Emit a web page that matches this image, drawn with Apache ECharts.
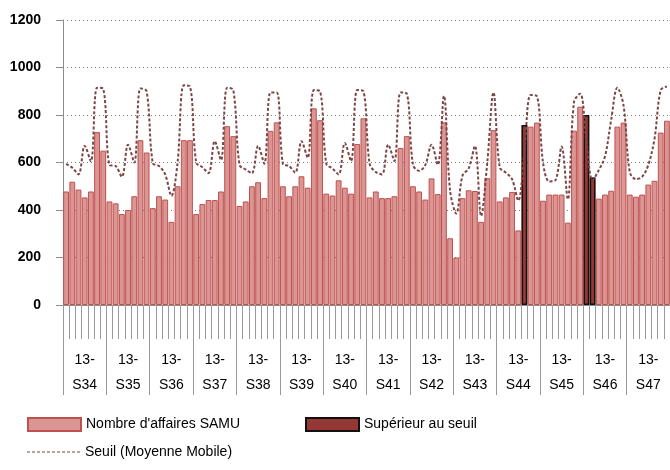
<!DOCTYPE html>
<html><head><meta charset="utf-8">
<script src="https://cdn.jsdelivr.net/npm/echarts@6/dist/echarts.min.js"></script>
<style>html,body{margin:0;padding:0;background:#fff}#c{width:670px;height:470px}</style>
</head><body><div id="c"></div>
<script>
// ---- Data ----
const weeks = ['S34','S35','S36','S37','S38','S39','S40','S41','S42','S43','S44','S45','S46','S47'];
const weekLabels = weeks.map(w => '13-\n' + w);
const dayNames = ['L','Ma','Me','J','V','S','D'];
const days = [];
weeks.forEach(w => dayNames.forEach(d => days.push(w + ' ' + d)));

const nombreAffaires = [
  478, 519, 486, 453, 478, 728, 650,
  436, 428, 383, 400, 458, 694, 642,
  408, 458, 444, 350, 500, 694, 694,
  383, 425, 442, 442, 478, 753, 711,
  417, 436, 500, 517, 450, 733, 769,
  500, 458, 500, 542, 494, 828, 778,
  469, 461, 525, 494, 469, 678, 786,
  453, 478, 450, 450, 458, 661, 711,
  500, 478, 444, 533, 467, 769, 281,
  200, 450, 483, 480, 350, 534, 736,
  436, 453, 476, 314, 758, 751, 768,
  439, 465, 465, 465, 347, 734, 835,
  800, 537, 448, 465, 481, 751, 768,
  465, 456, 465, 507, 523, 726, 776
];
const superieurSeuil = [
  null,null,null,null,null,null,null,
  null,null,null,null,null,null,null,
  null,null,null,null,null,null,null,
  null,null,null,null,null,null,null,
  null,null,null,null,null,null,null,
  null,null,null,null,null,null,null,
  null,null,null,null,null,null,null,
  null,null,null,null,null,null,null,
  null,null,null,null,null,null,null,
  null,null,null,null,null,null,null,
  null,null,null,null,758,null,null,
  null,null,null,null,null,null,null,
  800,537,null,null,null,null,null,
  null,null,null,null,null,null,null
];
const seuil = [
  594, 578, 550, 670, 605, 915, 910,
  590, 585, 540, 675, 600, 912, 900,
  597, 585, 550, 460, 600, 925, 920,
  600, 580, 555, 690, 610, 915, 905,
  590, 570, 555, 670, 595, 895, 895,
  595, 585, 557, 690, 620, 905, 900,
  595, 575, 550, 682, 606, 905, 900,
  595, 560, 550, 675, 606, 895, 890,
  592, 565, 590, 675, 590, 880, 480,
  385, 545, 575, 670, 375, 600, 895,
  580, 557, 530, 440, 650, 884, 880,
  600, 520, 525, 667, 445, 855, 890,
  690, 525, 568, 625, 779, 915, 840,
  560, 530, 540, 590, 700, 905, 920
];
const yTicks = [0, 200, 400, 600, 800, 1000, 1200];

// ---- Chart ----
const FONT = "'Liberation Sans',Arial,sans-serif";
const LINE_COLOR = '#7a4646';
const dashIcon = 'path://' + [0,5,10,15,20,25,30,35,40,45,50].map(x => 'M' + x + ',0h3v1h-3z').join('');
const chart = echarts.init(document.getElementById('c'), null, {renderer: 'canvas'});
chart.setOption({
  backgroundColor: '#ffffff',
  animation: false,
  textStyle: {fontFamily: FONT},
  grid: {left: 63, right: 0, top: 20, bottom: 165, containLabel: false},
  legend: [
    {data: ["Nombre d'affaires SAMU"], left: 27, top: 417, padding: 0, itemWidth: 53, itemHeight: 13, icon: 'rect',
     textStyle: {fontFamily: FONT, fontSize: 14, color: '#000'}},
    {data: ['Supérieur au seuil'], left: 305, top: 417, padding: 0, itemWidth: 53, itemHeight: 13, icon: 'rect',
     textStyle: {fontFamily: FONT, fontSize: 14, color: '#000'}},
    {data: [{name: 'Seuil (Moyenne Mobile)', icon: dashIcon}], left: 27, top: 445, padding: 0, itemWidth: 53, itemHeight: 2,
     itemStyle: {color: LINE_COLOR},
     textStyle: {fontFamily: FONT, fontSize: 14, color: '#000'}}
  ],
  xAxis: [
    {type: 'category', data: days, position: 'bottom', boundaryGap: true,
     axisLine: {show: true, lineStyle: {color: '#8c8c8c', width: 1}},
     axisTick: {show: true, interval: 0, length: 34, lineStyle: {color: '#9a9a9a'}},
     axisLabel: {show: false}, splitLine: {show: false}},
    {type: 'category', data: weekLabels, position: 'bottom', offset: 0, boundaryGap: true,
     axisLine: {show: false},
     axisTick: {show: true, interval: 0, length: 90, lineStyle: {color: '#9a9a9a'}},
     axisLabel: {show: true, interval: 0, margin: 43, lineHeight: 25, fontSize: 14, color: '#000', fontFamily: FONT},
     splitLine: {show: false}}
  ],
  yAxis: {
    type: 'value', min: yTicks[0], max: yTicks[yTicks.length - 1], interval: 200,
    axisLine: {show: true, lineStyle: {color: '#8c8c8c'}},
    axisTick: {show: true, length: 7, lineStyle: {color: '#8c8c8c'}},
    axisLabel: {margin: 22, fontSize: 14, fontWeight: 'bold', color: '#000', fontFamily: FONT,
                formatter: v => String(v)},
    splitLine: {show: true, lineStyle: {color: '#808080', type: [1, 3], width: 1}}
  },
  series: [
    {name: "Nombre d'affaires SAMU", type: 'bar', xAxisIndex: 0, data: nombreAffaires,
     barCategoryGap: '6%', barGap: '-100%',
     itemStyle: {color: '#D99694', borderColor: '#C0504D', borderWidth: 1}},
    {name: 'Supérieur au seuil', type: 'bar', xAxisIndex: 0, data: superieurSeuil,
     barCategoryGap: '6%', barGap: '-100%',
     itemStyle: {color: '#953735', borderColor: '#111111', borderWidth: 1.5}},
    {name: 'Seuil (Moyenne Mobile)', type: 'line', xAxisIndex: 0, data: seuil,
     smooth: 0.35, symbol: 'none', showSymbol: false, z: 5,
     lineStyle: {color: LINE_COLOR, width: 2, type: [3, 2]},
     itemStyle: {color: LINE_COLOR}}
  ]
});
</script>
</body></html>
